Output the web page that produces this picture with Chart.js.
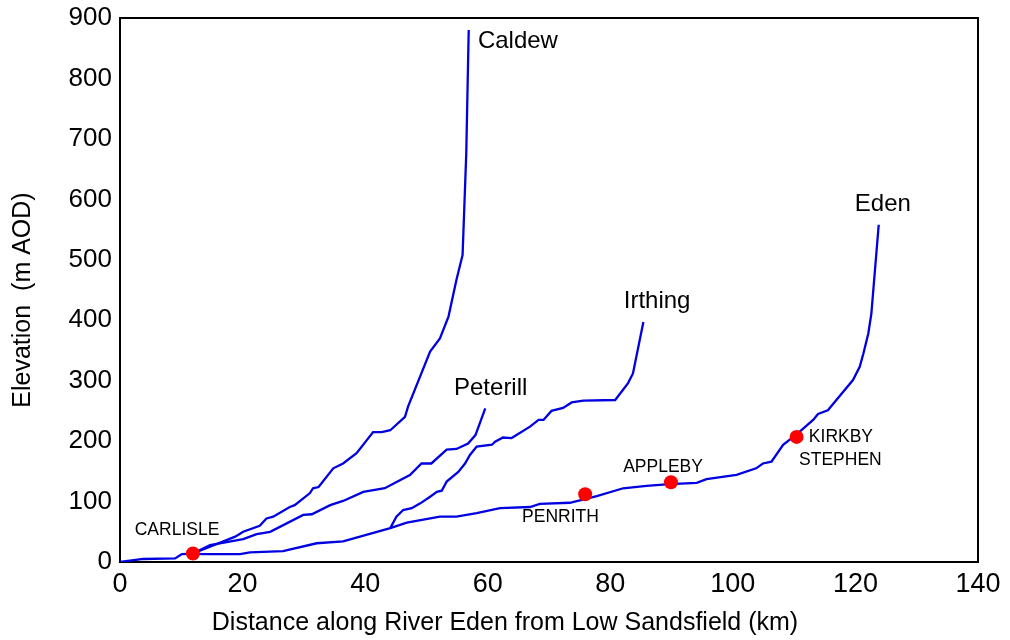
<!DOCTYPE html>
<html>
<head>
<meta charset="utf-8">
<script src="https://cdn.jsdelivr.net/npm/chart.js@4"></script>
<style>
  body { margin: 0; background: #fff; }
  #wrap { width: 1010px; height: 640px; }
</style>
</head>
<body>
<div id="wrap"><canvas id="chart" width="1010" height="640"></canvas></div>
<script>
// long profiles, distance (km) / elevation (m AOD)
const edenDist = [0, 3.8, 9, 10.1, 11.9, 13.5, 19.6, 21.2, 26.6, 32.1, 36.4, 44.1, 46.8, 52.2, 54.9, 58.2, 62, 66.9, 68.5, 73.4, 77.8, 82.1, 85.9, 89.7, 94.1, 95.7, 100.6, 103.8, 104.9, 106.3, 108.2, 110.4, 113.1, 113.9, 115.5, 119.6, 120.7, 121.3, 122.1, 122.6, 123.8];
const edenElev = [0, 5, 6, 13, 14, 13, 13, 16, 18, 31, 34, 56, 65, 75, 75, 81, 89, 91, 96, 98, 109, 122, 126, 129, 131, 137, 144, 155, 163, 166, 194, 211, 235, 245, 251, 301, 323, 345, 378, 411, 558];

const caldewDist = [11.9, 18.8, 20.1, 22.8, 23.9, 25, 27.7, 28.5, 31, 31.5, 32.4, 34.8, 36.4, 38.6, 41.3, 42.7, 44.1, 46.5, 47, 50.6, 52.2, 53.6, 54.9, 55.9, 56.5, 56.9];
const caldewElev = [14, 42, 50, 60, 72, 75, 91, 94, 114, 122, 124, 155, 163, 180, 215, 215, 218, 240, 257, 348, 370, 406, 467, 508, 676, 880];

const peterillDist = [11.9, 14.7, 20.1, 22.3, 24.5, 29.9, 31.3, 34.3, 36.4, 39.7, 43.2, 47.3, 49.2, 50.8, 53.3, 54.9, 56.8, 58, 59.6];
const peterillElev = [14, 28, 38, 46, 50, 78, 79, 94, 101, 116, 122, 144, 163, 163, 186, 187, 196, 210, 254];

const irthingDist = [44.1, 45.1, 46.2, 47.6, 49, 50.6, 51.7, 52.5, 53.3, 55.2, 56.3, 57.1, 58.2, 60.7, 61.2, 62.5, 63.9, 66.9, 68.3, 69.1, 70.4, 72.3, 73.7, 75.6, 80.8, 82.9, 83.7, 85.4];
const irthingElev = [56, 75, 86, 89, 97, 108, 116, 118, 133, 149, 163, 177, 191, 194, 199, 206, 205, 224, 235, 235, 250, 255, 264, 267, 268, 296, 312, 397];

// towns
const townNames = ['CARLISLE', 'PENRITH', 'APPLEBY', 'KIRKBY STEPHEN'];
const townDist = [11.9, 75.9, 89.9, 110.4];
const townElev = [14, 112, 132, 207];

const xTicks = [0, 20, 40, 60, 80, 100, 120, 140];
const yTicks = [0, 100, 200, 300, 400, 500, 600, 700, 800, 900];

const xTitle = 'Distance along River Eden from Low Sandsfield (km)';
const yTitle = 'Elevation  (m AOD)';

const pts = (xs, ys) => xs.map((v, i) => ({ x: v, y: ys[i] }));

// where the text goes (data units, left edge / middle)
const riverLabels = [
  { text: 'Caldew', x: 58.4, y: 862 },
  { text: 'Peterill', x: 54.5, y: 288 },
  { text: 'Irthing', x: 82.2, y: 432 },
  { text: 'Eden', x: 119.9, y: 592 }
];
const townLabels = [
  { text: 'CARLISLE', x: 2.4, y: 53 },
  { text: 'PENRITH', x: 65.6, y: 74.5 },
  { text: 'APPLEBY', x: 82.1, y: 157 },
  { text: 'KIRKBY', x: 112.4, y: 207 },
  { text: 'STEPHEN', x: 110.8, y: 169 }
];

const FONT = '"Liberation Sans", Arial, sans-serif';
const BLUE = 'rgb(0,0,225)';

const annotations = {
  id: 'annotations',
  beforeDatasetsDraw(chart) {
    const { ctx, chartArea: a } = chart;
    ctx.save();
    ctx.strokeStyle = '#000';
    ctx.lineWidth = 2;
    ctx.strokeRect(a.left, a.top, a.right - a.left, a.bottom - a.top);
    ctx.restore();
  },
  afterDatasetsDraw(chart) {
    const { ctx, scales: { x, y } } = chart;
    ctx.save();
    ctx.fillStyle = '#000';
    ctx.textAlign = 'left';
    ctx.textBaseline = 'middle';
    ctx.font = '24px ' + FONT;
    riverLabels.forEach(l => ctx.fillText(l.text, x.getPixelForValue(l.x), y.getPixelForValue(l.y)));
    ctx.font = '17.5px ' + FONT;
    townLabels.forEach(l => ctx.fillText(l.text, x.getPixelForValue(l.x), y.getPixelForValue(l.y)));

    // axis titles
    ctx.font = '25px ' + FONT;
    ctx.textAlign = 'center';
    ctx.fillText(xTitle, chart.width / 2, 623);
    ctx.translate(23, 300);
    ctx.rotate(-Math.PI / 2);
    ctx.fillText(yTitle, 0, 0);
    ctx.restore();
  }
};

const lineDs = (label, xs, ys) => ({
  label: label,
  data: pts(xs, ys),
  showLine: true,
  borderColor: BLUE,
  borderWidth: 2.3,
  pointRadius: 0,
  tension: 0,
  order: 1
});

new Chart(document.getElementById('chart'), {
  type: 'scatter',
  data: {
    datasets: [
      {
        label: 'Towns',
        data: pts(townDist, townElev),
        pointRadius: 7,
        pointBackgroundColor: '#ff0000',
        pointBorderWidth: 0,
        order: 0
      },
      lineDs('Eden', edenDist, edenElev),
      lineDs('Caldew', caldewDist, caldewElev),
      lineDs('Peterill', peterillDist, peterillElev),
      lineDs('Irthing', irthingDist, irthingElev)
    ]
  },
  options: {
    responsive: false,
    animation: false,
    layout: { padding: { top: 18, right: 32, left: 0, bottom: 0 } },
    plugins: {
      legend: { display: false },
      tooltip: { enabled: false }
    },
    scales: {
      x: {
        type: 'linear',
        min: 0,
        max: 140,
        afterBuildTicks: s => { s.ticks = xTicks.map(v => ({ value: v })); },
        afterFit: s => { s.height = 78; s.paddingLeft = 0; s.paddingRight = 0; },
        grid: { display: false, drawTicks: false },
        border: { display: true, color: '#000', width: 2 },
        ticks: { color: '#000', padding: 6, maxRotation: 0, font: { family: FONT, size: 27 } }
      },
      y: {
        min: 0,
        max: 900,
        afterBuildTicks: s => { s.ticks = yTicks.map(v => ({ value: v })); },
        afterFit: s => { s.width = 120; s.paddingTop = 0; s.paddingBottom = 0; },
        grid: { display: false, drawTicks: false },
        border: { display: true, color: '#000', width: 2 },
        ticks: { color: '#000', padding: 8, font: { family: FONT, size: 26 } }
      }
    }
  },
  plugins: [annotations]
});
</script>
</body>
</html>
